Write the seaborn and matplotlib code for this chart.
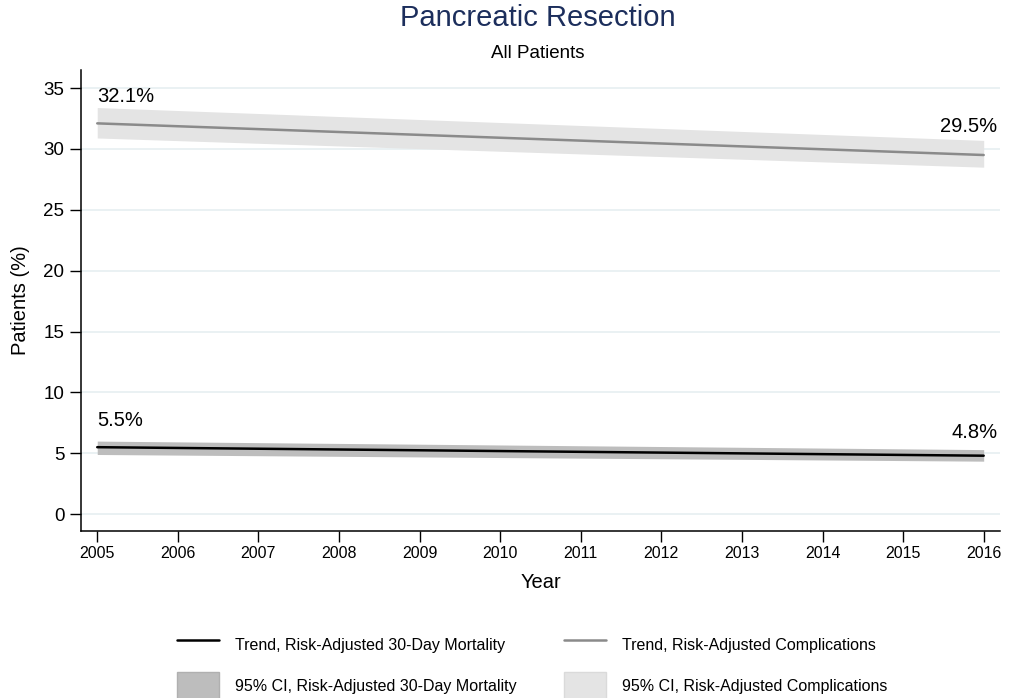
import pandas as pd
import numpy as np
import matplotlib
matplotlib.use("Agg")
import matplotlib.pyplot as plt
import seaborn as sns
from matplotlib.lines import Line2D
from matplotlib.patches import Patch

# ================================
# Data
# ================================
years = [2005, 2016]

mort_trend = [5.5, 4.8]
mort_lo = [4.9, 4.35]
mort_hi = [6.0, 5.3]

comp_trend = [32.1, 29.5]
comp_lo = [30.9, 28.5]
comp_hi = [33.4, 30.7]

year_ticks = list(range(2005, 2017))
y_ticks = [0, 5, 10, 15, 20, 25, 30, 35]

df = pd.DataFrame({
    "Year": years * 2,
    "Value": mort_trend + comp_trend,
    "Series": ["Mortality"] * 2 + ["Complications"] * 2,
})

# ================================
# Plot
# ================================
sns.set_style("white")
plt.rcParams["font.family"] = ["Liberation Sans", "DejaVu Sans"]
plt.rcParams["text.color"] = "black"
plt.rcParams["axes.labelcolor"] = "black"
plt.rcParams["xtick.color"] = "black"
plt.rcParams["ytick.color"] = "black"

fig = plt.figure(figsize=(10.14, 6.98), dpi=100)
ax = fig.add_axes([0.080, 0.239, 0.906, 0.661])

grid_col = "#e6eff1"
for y in y_ticks:
    ax.axhline(y, color=grid_col, lw=1.2, zorder=0)

ax.fill_between(years, comp_lo, comp_hi, color="#e4e4e4", lw=0, zorder=1)
ax.fill_between(years, mort_lo, mort_hi, color="#bdbdbd", lw=0, zorder=1)

sns.lineplot(data=df, x="Year", y="Value", hue="Series",
             palette={"Mortality": "black", "Complications": "#8a8a8a"},
             linewidth=1.8, legend=False, ax=ax, zorder=2)

# end-point labels
ax.text(years[0], comp_hi[0] + 0.1, f"{comp_trend[0]:.1f}%", fontsize=14.5,
        ha="left", va="bottom")
ax.text(years[1] + 0.17, comp_hi[1] + 0.4, f"{comp_trend[1]:.1f}%", fontsize=14.5,
        ha="right", va="bottom")
ax.text(years[0], mort_hi[0] + 0.9, f"{mort_trend[0]:.1f}%", fontsize=14.5,
        ha="left", va="bottom")
ax.text(years[1] + 0.17, mort_hi[1] + 0.6, f"{mort_trend[1]:.1f}%", fontsize=14.5,
        ha="right", va="bottom")

ax.set_xlim(2004.8, 2016.2)
ax.set_ylim(-1.4, 36.5)
ax.set_xticks(year_ticks)
ax.set_yticks(y_ticks)
ax.tick_params(axis="x", direction="out", length=8, width=1, labelsize=11.5, pad=3)
ax.tick_params(axis="y", direction="out", length=8, width=1, labelsize=13.5, pad=4)
ax.tick_params(bottom=True, left=True)

for s in ["top", "right"]:
    ax.spines[s].set_visible(False)
for s in ["left", "bottom"]:
    ax.spines[s].set_color("black")
    ax.spines[s].set_linewidth(1.1)

ax.set_xlabel("Year", fontsize=14.5, labelpad=8)
ax.set_ylabel("Patients (%)", fontsize=14.5, labelpad=10)

fig.text(0.53, 0.974, "Pancreatic Resection", ha="center", va="center",
         fontsize=21, color="#1c2e5c")
fig.text(0.53, 0.923, "All Patients", ha="center", va="center", fontsize=13.5)

handles = [
    Line2D([0], [0], color="black", lw=1.8),
    Patch(facecolor="#bdbdbd", edgecolor="#b0b0b0"),
    Line2D([0], [0], color="#8a8a8a", lw=1.8),
    Patch(facecolor="#e4e4e4", edgecolor="#dadada"),
]
labels = [
    "Trend, Risk-Adjusted 30-Day Mortality",
    "95% CI, Risk-Adjusted 30-Day Mortality",
    "Trend, Risk-Adjusted Complications",
    "95% CI, Risk-Adjusted Complications",
]
fig.legend(handles, labels, ncol=2, loc="center", bbox_to_anchor=(0.525, 0.047),
           frameon=False, fontsize=11.5, handlelength=2.6, handleheight=2.2,
           columnspacing=3.0, labelspacing=0.9, handletextpad=1.0)

fig.savefig("out.png", dpi=100)
